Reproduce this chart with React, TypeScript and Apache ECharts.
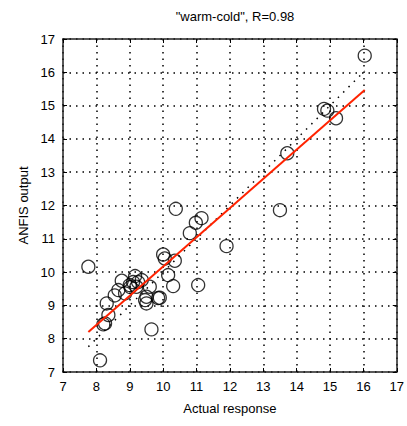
import React, { useEffect, useRef } from "react";
import * as echarts from "echarts";

const actual = [
  16.04, 14.82, 14.92, 15.18, 13.72, 13.5, 11.9, 10.38, 10.98, 11.15, 10.8,
  7.76, 10.0, 10.05, 10.35, 10.15, 10.3, 11.05, 9.9, 9.65, 8.11, 8.76, 9.16,
  9.0, 9.36, 9.6, 8.66, 8.86, 9.5, 9.46, 9.5, 9.85, 8.31, 9.2, 8.36, 8.26,
  8.21, 9.1, 9.25, 9.02, 8.55,
];
const anfis = [
  16.5, 14.9, 14.85, 14.62, 13.57, 11.86, 10.78, 11.9, 11.48, 11.62, 11.17,
  10.16, 10.53, 10.41, 10.34, 9.91, 9.58, 9.61, 9.23, 8.28, 7.35, 9.74, 9.88,
  9.61, 9.76, 9.56, 9.46, 9.36, 9.26, 9.16, 9.06, 9.22, 9.06, 9.56, 8.71,
  8.46, 8.43, 9.7, 9.7, 9.55, 9.3,
];
const fitX = [7.76, 16.04];
const fitY = [8.2, 15.47];
const identity = [7.76, 16.04];
const ticks = [7, 8, 9, 10, 11, 12, 13, 14, 15, 16, 17];

const FONT = "Liberation Sans, Arial, sans-serif";

export default function App() {
  const ref = useRef<HTMLDivElement>(null);
  useEffect(() => {
    if (!ref.current) return;
    const chart = echarts.init(ref.current, null, { renderer: "svg" });
    const gridStyle = { color: "#000", width: 1.5, type: [1.5, 5] as any };
    const axisBase = {
      type: "value" as const,
      min: ticks[0],
      max: ticks[ticks.length - 1],
      interval: 1,
      axisLine: { show: true, lineStyle: { color: "#222", width: 1.5 } },
      axisTick: { show: true, inside: true, length: 4, lineStyle: { color: "#000" } },
    };
    chart.setOption({
      animation: false,
      backgroundColor: "#fff",
      title: {
        text: '"warm-cold", R=0.98',
        left: 230,
        top: 5,
        textAlign: "center",
        textStyle: { fontFamily: FONT, fontSize: 13, fontWeight: "normal", color: "#000" },
      },
      grid: { left: 63, top: 39, width: 334, height: 333, containLabel: false },
      xAxis: [
        {
          ...axisBase,
          position: "bottom",
          name: "Actual response",
          nameLocation: "middle",
          nameGap: 30,
          nameTextStyle: { fontFamily: FONT, fontSize: 13, color: "#000" },
          axisLabel: { fontFamily: FONT, fontSize: 13, color: "#000", margin: 8 },
          splitLine: { show: true, lineStyle: gridStyle },
        },
        {
          ...axisBase,
          position: "top",
          axisLabel: { show: false },
          splitLine: { show: false },
        },
      ],
      yAxis: [
        {
          ...axisBase,
          position: "left",
          name: "ANFIS output",
          nameLocation: "middle",
          nameGap: 33,
          nameTextStyle: { fontFamily: FONT, fontSize: 13, color: "#000" },
          axisLabel: { fontFamily: FONT, fontSize: 13, color: "#000", margin: 8 },
          splitLine: { show: true, lineStyle: gridStyle },
        },
        {
          ...axisBase,
          position: "right",
          axisLabel: { show: false },
          splitLine: { show: false },
        },
      ],
      series: [
        {
          type: "line",
          data: identity.map((v) => [v, v]),
          symbol: "none",
          lineStyle: { color: "#000", width: 1.5, type: [1.5, 6] },
          z: 2,
        },
        {
          type: "scatter",
          data: actual.map((x, i) => [x, anfis[i]]),
          symbol: "circle",
          symbolSize: 13,
          itemStyle: { color: "rgba(0,0,0,0)", borderColor: "#000", borderWidth: 1.3 },
          z: 3,
        },
        {
          type: "line",
          data: fitX.map((x, i) => [x, fitY[i]]),
          symbol: "none",
          lineStyle: { color: "#ff2200", width: 2 },
          z: 4,
        },
      ],
    });
    return () => chart.dispose();
  }, []);
  return (
    <div
      ref={ref}
      style={{ position: "fixed", left: 0, top: 0, width: 407, height: 426, background: "#fff" }}
    />
  );
}
